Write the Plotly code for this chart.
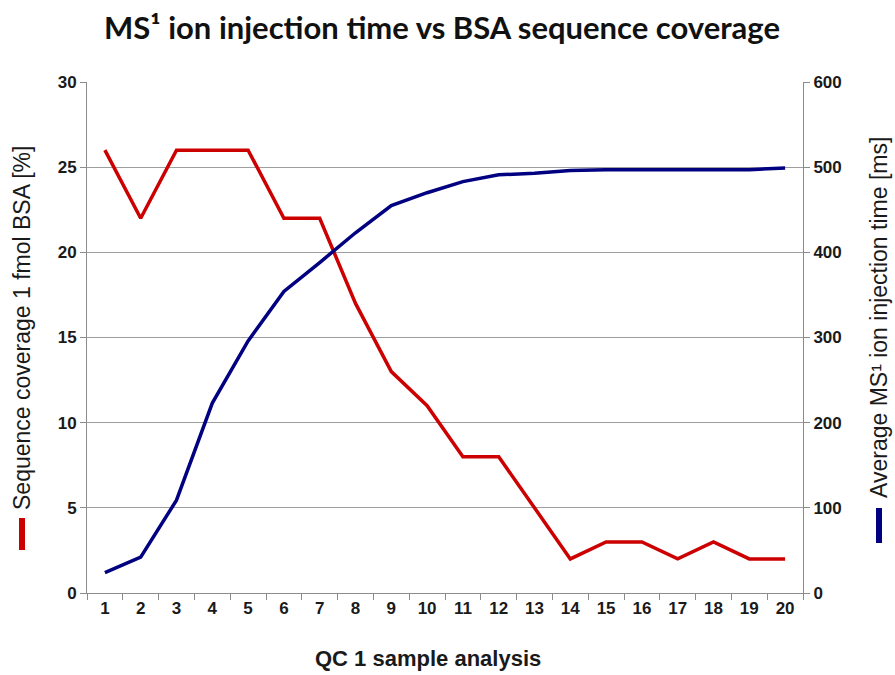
import plotly.graph_objects as go

# ---- data ----
samples = [str(i) for i in range(1, 21)]
coverage_pct = [26, 22, 26, 26, 26, 22, 22, 17, 13, 11, 8, 8, 5, 2, 3, 3, 2, 3, 2, 2]
injection_ms = [24, 42, 109, 223, 296, 354, 388, 423, 455, 470, 483, 491, 493, 496, 497, 497, 497, 497, 497, 499]
left_ticks = [0, 5, 10, 15, 20, 25, 30]
right_ticks = [0, 100, 200, 300, 400, 500, 600]

RED = "#cc0000"
NAVY = "#000080"
AXIS = "#8c8c8c"
GRID = "#9e9e9e"
TXT = "#1a1a1a"
FONT = "Liberation Sans"

# page-pixel geometry helpers
L, R, T, B = 87, 803, 82, 593
W, H = 895, 675
def px(x):
    return (x - L) / (R - L)
def py(y):
    return (B - y) / (B - T)

fig = go.Figure()
fig.add_trace(go.Scatter(x=samples, y=coverage_pct, mode="lines",
                         line=dict(color=RED, width=3.5), yaxis="y",
                         name="Sequence coverage"))
fig.add_trace(go.Scatter(x=samples, y=injection_ms, mode="lines",
                         line=dict(color=NAVY, width=3.5), yaxis="y2",
                         name="Injection time"))

tickfont = dict(family=FONT, size=17, color=TXT, weight="bold")

fig.update_layout(
    width=W, height=H,
    margin=dict(l=L, r=W - R, t=T, b=H - B),
    paper_bgcolor="white", plot_bgcolor="white",
    showlegend=False,
    title=dict(text="MS¹ ion injection time vs BSA sequence coverage",
               font=dict(family="Lato", size=31, color="#111111", weight="bold"),
               xref="container", x=442 / W, xanchor="center",
               yref="container", y=1 - 28 / H, yanchor="middle"),
    xaxis=dict(type="category", range=[-0.5, 19.5], tickson="boundaries",
               ticks="outside", ticklen=6, tickcolor=AXIS, tickwidth=1,
               showline=True, linecolor=AXIS, linewidth=1, showgrid=False,
               tickfont=tickfont, fixedrange=True),
    yaxis=dict(range=[0, 30], tickvals=left_ticks, showgrid=True, gridcolor=GRID,
               gridwidth=1, zeroline=False, ticks="outside", ticklen=6,
               tickcolor=AXIS, showline=True, linecolor=AXIS, linewidth=1,
               tickfont=tickfont),
    yaxis2=dict(range=[0, 600], tickvals=right_ticks, overlaying="y", side="right",
                showgrid=False, zeroline=False, ticks="outside", ticklen=6,
                tickcolor=AXIS, showline=True, linecolor=AXIS, linewidth=1,
                tickfont=tickfont),
)

annotations = [
    dict(text="<b>QC 1 sample analysis</b>", xref="paper", yref="paper",
         x=px(428), y=py(659), xanchor="center", yanchor="middle",
         showarrow=False, font=dict(family=FONT, size=22, color=TXT)),
    dict(text="Sequence coverage 1 fmol BSA [%]", xref="paper", yref="paper",
         x=px(22), y=py(328), xanchor="center", yanchor="middle", textangle=-90,
         showarrow=False, font=dict(family=FONT, size=23, color=TXT)),
    dict(text="Average MS¹ ion injection time [ms]", xref="paper", yref="paper",
         x=px(879), y=py(318), xanchor="center", yanchor="middle", textangle=-90,
         showarrow=False, font=dict(family=FONT, size=23, color=TXT)),
]
fig.update_layout(annotations=annotations)

# legend keys next to the axis titles
fig.add_shape(type="line", xref="paper", yref="paper",
              x0=px(22), x1=px(22), y0=py(550), y1=py(518),
              line=dict(color=RED, width=6))
fig.add_shape(type="line", xref="paper", yref="paper",
              x0=px(879), x1=px(879), y0=py(543), y1=py(508),
              line=dict(color=NAVY, width=6))

fig.write_html("out.html",
               config={"displayModeBar": False},
               post_script="document.body.style.margin='0';document.body.style.overflow='hidden';")
